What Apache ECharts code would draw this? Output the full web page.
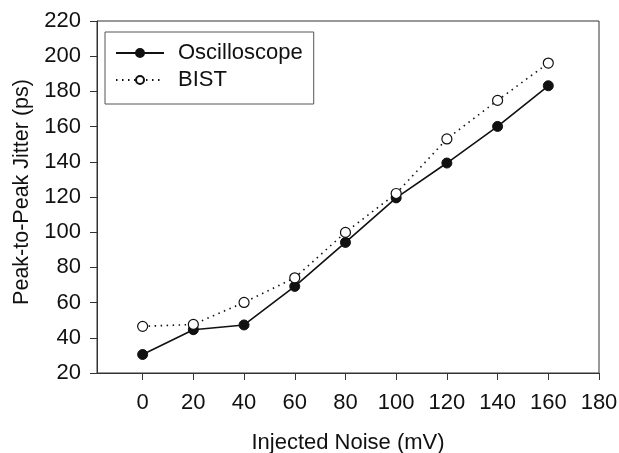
<!DOCTYPE html>
<html>
<head>
<meta charset="utf-8">
<script src="https://cdn.jsdelivr.net/npm/echarts@6/dist/echarts.min.js"></script>
<style>
html,body{margin:0;padding:0;background:#fff;}
#chart{width:619px;height:453px;}
</style>
</head>
<body>
<div id="chart"></div>
<script>
var noise = [0, 20, 40, 60, 80, 100, 120, 140, 160];
var oscilloscope = [30.5, 44.6, 47.3, 69.2, 94.2, 119.5, 139.3, 160.1, 183.2];
var bist = [46.5, 47.6, 60.1, 74.1, 99.9, 122.0, 153.0, 174.9, 196.1];
var xTicks = [0, 20, 40, 60, 80, 100, 120, 140, 160, 180];

function pairs(xs, ys) { return xs.map(function (x, i) { return [x, ys[i]]; }); }

var font = 'Liberation Sans, Arial, sans-serif';
var chart = echarts.init(document.getElementById('chart'), null, {renderer: 'canvas'});
chart.setOption({
  animation: false,
  backgroundColor: '#fff',
  grid: {left: 97, right: 20, top: 21, bottom: 80, containLabel: false, outerBoundsMode: 'none',
         show: true, borderColor: '#333', borderWidth: 1, backgroundColor: 'transparent'},
  legend: {
    orient: 'vertical', left: 105, top: 32,
    padding: [10, 11, 13, 10], itemGap: 5,
    itemWidth: 48, itemHeight: 10,
    borderColor: '#555', borderWidth: 1,
    textStyle: {fontFamily: font, fontSize: 22, color: '#111', padding: [0, 0, 0, 9]},
    data: ['Oscilloscope', 'BIST']
  },
  xAxis: {
    type: 'value', min: -18, max: 180,
    name: 'Injected Noise (mV)', nameLocation: 'middle', nameGap: 59,
    nameTextStyle: {fontFamily: font, fontSize: 22, color: '#111'},
    axisLine: {show: true, onZero: false, lineStyle: {color: '#333', width: 1}},
    axisTick: {show: true, length: 7, customValues: xTicks, lineStyle: {color: '#333'}},
    axisLabel: {customValues: xTicks, margin: 19, fontFamily: font, fontSize: 22, color: '#111'},
    splitLine: {show: false}
  },
  yAxis: {
    type: 'value', min: 20, max: 220, interval: 20,
    name: 'Peak-to-Peak Jitter (ps)', nameLocation: 'middle', nameGap: 64,
    nameTextStyle: {fontFamily: font, fontSize: 21.5, color: '#111', padding: [0, 0, 0, 10]},
    axisLine: {show: true, onZero: false, lineStyle: {color: '#333', width: 1}},
    axisTick: {show: true, length: 7, lineStyle: {color: '#333'}},
    axisLabel: {margin: 16, fontFamily: font, fontSize: 22, color: '#111'},
    splitLine: {show: false}
  },
  series: [
    {
      name: 'Oscilloscope', type: 'line', data: pairs(noise, oscilloscope),
      symbol: 'circle', symbolSize: 10,
      itemStyle: {color: '#111', borderColor: '#111', borderWidth: 1},
      lineStyle: {color: '#111', width: 1.6, type: 'solid'}
    },
    {
      name: 'BIST', type: 'line', data: pairs(noise, bist),
      symbol: 'circle', symbolSize: 10,
      itemStyle: {color: '#fff', borderColor: '#111', borderWidth: 1.2},
      lineStyle: {color: '#111', width: 1.6, type: [1.5, 4.5]}
    }
  ]
});
</script>
</body>
</html>
